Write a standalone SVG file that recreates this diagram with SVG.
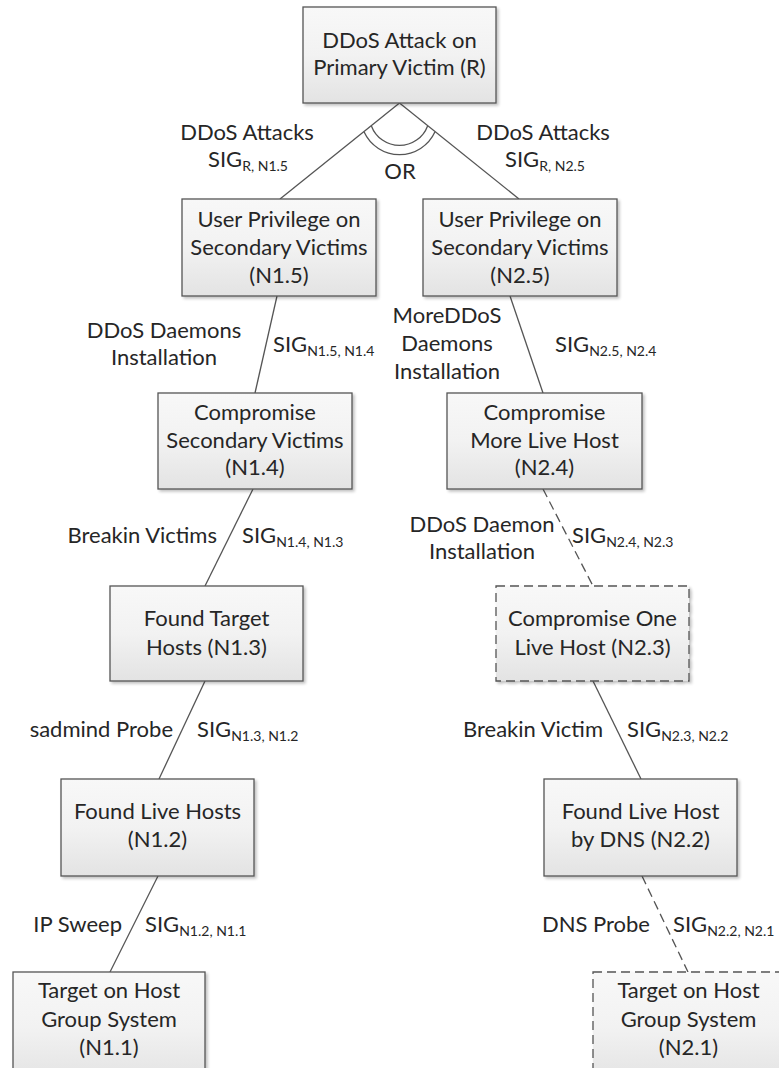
<svg xmlns="http://www.w3.org/2000/svg" width="779" height="1068" viewBox="0 0 779 1068">
  <defs>
    <linearGradient id="boxFill" x1="0" y1="0" x2="0" y2="1">
      <stop offset="0" stop-color="#f8f8f8"/>
      <stop offset="0.5" stop-color="#f2f2f2"/>
      <stop offset="1" stop-color="#e3e3e3"/>
    </linearGradient>
    <filter id="shadow" x="-10%" y="-10%" width="130%" height="130%">
      <feGaussianBlur in="SourceAlpha" stdDeviation="1.5"/>
      <feOffset dx="2" dy="2" result="b"/>
      <feComponentTransfer><feFuncA type="linear" slope="0.25"/></feComponentTransfer>
      <feMerge><feMergeNode/><feMergeNode in="SourceGraphic"/></feMerge>
    </filter>
  </defs>
  <style>
    text { font-family: Lato, "Open Sans", "Liberation Sans", sans-serif; font-size: 22px; fill: #262626; }
    .c { text-anchor: middle; }
    .e { text-anchor: end; }
    .sub { font-size: 14px; }
    .box { fill: url(#boxFill); stroke: #555555; stroke-width: 1.3; filter: url(#shadow); }
    .dash { stroke-dasharray: 9 5; }
    .link { fill: none; stroke: #555555; stroke-width: 1.3; }
  </style>
  <rect width="779" height="1068" fill="#ffffff"/>

  <!-- connectors -->
  <g id="connectors">
    <line class="link" x1="399.5" y1="103" x2="280" y2="199"/>
    <line class="link" x1="399.5" y1="103" x2="519" y2="199"/>
    <!-- OR gate: double arc between the two branches -->
    <path class="link" d="M364 131.8 A39 39 0 0 0 435 131.8"/>
    <path class="link" d="M371.4 125.9 A30 30 0 0 0 427.6 125.9"/>
    <line class="link" x1="277" y1="296" x2="255" y2="393"/>
    <line class="link" x1="510" y1="296" x2="543" y2="393"/>
    <line class="link" x1="253" y1="489" x2="205" y2="586"/>
    <line class="link dash" x1="543" y1="489" x2="593" y2="586"/>
    <line class="link" x1="205" y1="681" x2="159" y2="779"/>
    <line class="link" x1="593" y1="681" x2="641" y2="779"/>
    <line class="link" x1="158" y1="876" x2="110" y2="972"/>
    <line class="link dash" x1="642" y1="876" x2="688" y2="972"/>
  </g>

  <!-- connector labels -->
  <g id="labels">
    <text class="c" x="247" y="140">DDoS Attacks</text>
    <text x="208" y="167">SIG<tspan class="sub" dy="4">R, N1.5</tspan></text>
    <text class="c" x="543" y="140">DDoS Attacks</text>
    <text x="505" y="167">SIG<tspan class="sub" dy="4">R, N2.5</tspan></text>
    <text class="c" x="400" y="179">OR</text>

    <text class="c" x="164" y="338">DDoS Daemons</text>
    <text class="c" x="164" y="365">Installation</text>
    <text x="273" y="352">SIG<tspan class="sub" dy="4">N1.5, N1.4</tspan></text>

    <text class="c" x="447" y="323">MoreDDoS</text>
    <text class="c" x="447" y="351">Daemons</text>
    <text class="c" x="447" y="379">Installation</text>
    <text x="555" y="352">SIG<tspan class="sub" dy="4">N2.5, N2.4</tspan></text>

    <text class="e" x="217" y="543">Breakin Victims</text>
    <text x="242" y="543">SIG<tspan class="sub" dy="4">N1.4, N1.3</tspan></text>

    <text class="c" x="482" y="532">DDoS Daemon</text>
    <text class="c" x="482" y="559">Installation</text>
    <text x="572" y="543">SIG<tspan class="sub" dy="4">N2.4, N2.3</tspan></text>

    <text class="e" x="173" y="737">sadmind Probe</text>
    <text x="197" y="737">SIG<tspan class="sub" dy="4">N1.3, N1.2</tspan></text>

    <text class="e" x="603" y="737">Breakin Victim</text>
    <text x="627" y="737">SIG<tspan class="sub" dy="4">N2.3, N2.2</tspan></text>

    <text class="e" x="122" y="932">IP Sweep</text>
    <text x="145" y="932">SIG<tspan class="sub" dy="4">N1.2, N1.1</tspan></text>

    <text class="e" x="650" y="932">DNS Probe</text>
    <text x="673" y="932">SIG<tspan class="sub" dy="4">N2.2, N2.1</tspan></text>
  </g>

  <!-- nodes -->
  <g id="node-R">
    <rect class="box" x="303" y="7" width="193" height="96"/>
    <text class="c" x="399.5" y="48">DDoS Attack on</text>
    <text class="c" x="399.5" y="75">Primary Victim (R)</text>
  </g>

  <g id="node-N1.5">
    <rect class="box" x="182" y="199" width="194" height="97"/>
    <text class="c" x="279" y="227">User Privilege on</text>
    <text class="c" x="279" y="255">Secondary Victims</text>
    <text class="c" x="279" y="283">(N1.5)</text>
  </g>

  <g id="node-N2.5">
    <rect class="box" x="423" y="199" width="194" height="97"/>
    <text class="c" x="520" y="227">User Privilege on</text>
    <text class="c" x="520" y="255">Secondary Victims</text>
    <text class="c" x="520" y="283">(N2.5)</text>
  </g>

  <g id="node-N1.4">
    <rect class="box" x="158" y="393" width="194" height="96"/>
    <text class="c" x="255" y="420">Compromise</text>
    <text class="c" x="255" y="448">Secondary Victims</text>
    <text class="c" x="255" y="475">(N1.4)</text>
  </g>

  <g id="node-N2.4">
    <rect class="box" x="447" y="393" width="195" height="96"/>
    <text class="c" x="544.5" y="420">Compromise</text>
    <text class="c" x="544.5" y="448">More Live Host</text>
    <text class="c" x="544.5" y="475">(N2.4)</text>
  </g>

  <g id="node-N1.3">
    <rect class="box" x="110" y="586" width="193" height="95"/>
    <text class="c" x="206.5" y="626">Found Target</text>
    <text class="c" x="206.5" y="655">Hosts (N1.3)</text>
  </g>

  <g id="node-N2.3">
    <rect class="box dash" x="496" y="586" width="193" height="95"/>
    <text class="c" x="592.5" y="626">Compromise One</text>
    <text class="c" x="592.5" y="655">Live Host (N2.3)</text>
  </g>

  <g id="node-N1.2">
    <rect class="box" x="61" y="779" width="193" height="97"/>
    <text class="c" x="157.5" y="819">Found Live Hosts</text>
    <text class="c" x="157.5" y="847">(N1.2)</text>
  </g>

  <g id="node-N2.2">
    <rect class="box" x="544" y="779" width="193" height="97"/>
    <text class="c" x="640.5" y="819">Found Live Host</text>
    <text class="c" x="640.5" y="847">by DNS (N2.2)</text>
  </g>

  <g id="node-N1.1">
    <rect class="box" x="13" y="972" width="192" height="110"/>
    <text class="c" x="109" y="998">Target on Host</text>
    <text class="c" x="109" y="1027">Group System</text>
    <text class="c" x="109" y="1055">(N1.1)</text>
  </g>

  <g id="node-N2.1">
    <rect class="box dash" x="593" y="972" width="192" height="110"/>
    <text class="c" x="688.5" y="998">Target on Host</text>
    <text class="c" x="688.5" y="1027">Group System</text>
    <text class="c" x="688.5" y="1055">(N2.1)</text>
  </g>
</svg>
